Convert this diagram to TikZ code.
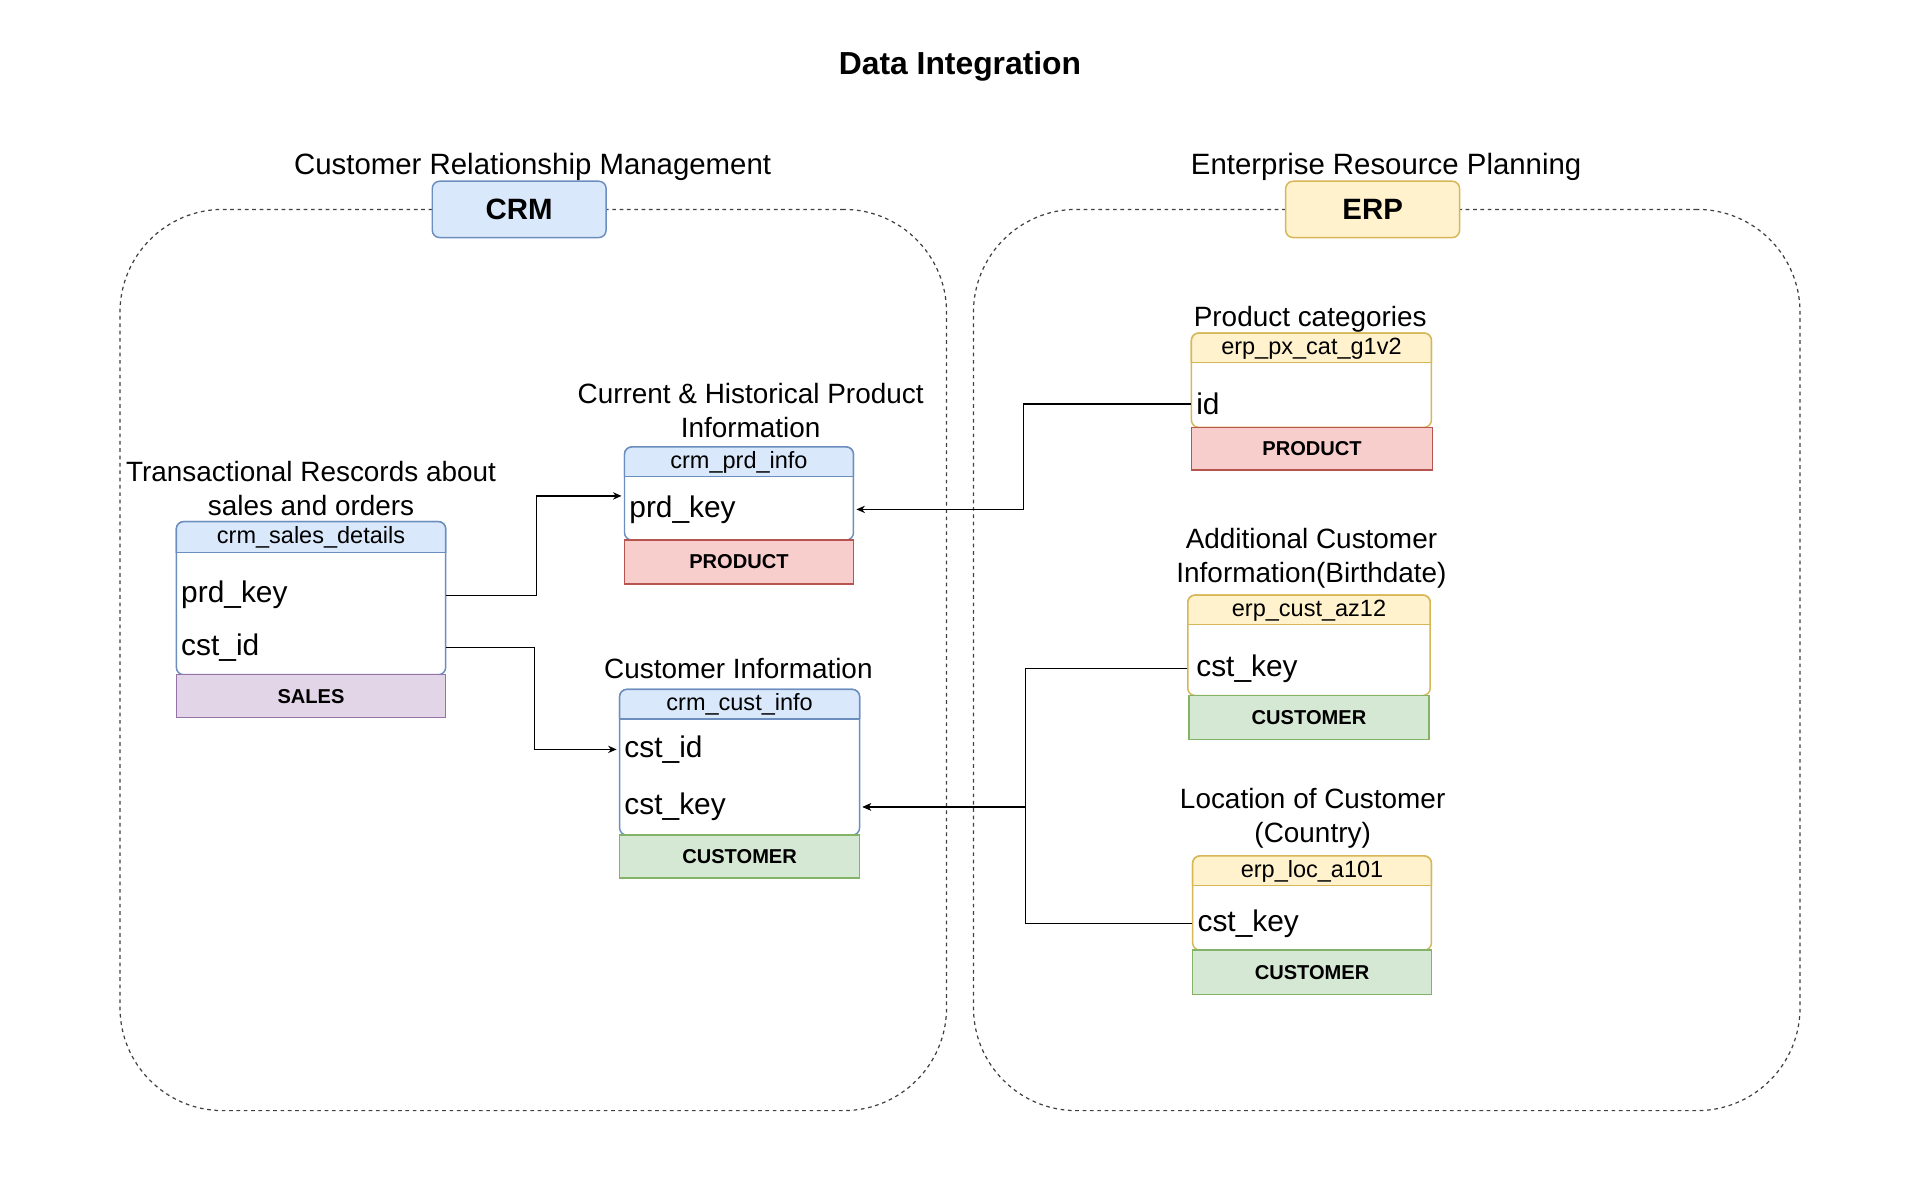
\documentclass[tikz,border=0pt]{standalone}
\usepackage{fontspec}
\setmainfont{Liberation Sans}
\usetikzlibrary{arrows.meta,calc}
\definecolor{bfill}{HTML}{DAE8FC}\definecolor{bline}{HTML}{6C8EBF}
\definecolor{yfill}{HTML}{FFF2CC}\definecolor{yline}{HTML}{D6B656}
\definecolor{rfill}{HTML}{F8CECC}\definecolor{rline}{HTML}{B85450}
\definecolor{pfill}{HTML}{E1D5E7}\definecolor{pline}{HTML}{9673A6}
\definecolor{gfill}{HTML}{D5E8D4}\definecolor{gline}{HTML}{82B366}
\newcommand{\dbtab}[8]{%
  \draw[tabline, draw=#8, fill=white, rounded corners=3pt] (#2,#4) rectangle (#3,#6);
  \begin{scope}
    \clip (#2-4,#4-4) rectangle (#3+4,#5);
    \draw[tabline, draw=#8, fill=#7, rounded corners=3pt] (#2,#4) rectangle (#3,#6);
  \end{scope}
  \draw[tabline, draw=#8] (#2,#5) -- (#3,#5);
}
\begin{document}
\begin{tikzpicture}[x=0.5pt,y=-0.5pt,
  container/.style={draw=black!75, line width=0.5pt, dash pattern=on 1.5pt off 1.5pt, rounded corners=42pt, rectangle, inner sep=0pt},
  tabline/.style={line width=0.6pt},
  sysbox/.style={rectangle, rounded corners=3pt, line width=0.6pt, inner sep=0pt, font=\bfseries\fontsize{12}{14}\selectfont},
  hdrtxt/.style={inner sep=0pt, font=\fontsize{9.6}{11}\selectfont},
  rowtxt/.style={rectangle, inner xsep=2pt, inner ysep=0pt, align=left, font=\fontsize{12.2}{14}\selectfont},
  foot/.style={rectangle, line width=0.6pt, inner sep=0pt, font=\bfseries\fontsize{8.2}{10}\selectfont},
  lbl/.style={inner sep=0pt, align=center, font=\fontsize{11.4}{14}\selectfont},
  biglbl/.style={inner sep=0pt, align=center, font=\fontsize{12}{14}\selectfont},
  conn/.style={draw=black, line width=0.5pt, -{Stealth[length=3.5pt,width=3pt]}}
]
\useasboundingbox (0,0) rectangle (1568,980);

% title
\node[inner sep=0pt, font=\bfseries\fontsize{13}{15}\selectfont] (title) at (784,54) {Data Integration};

% containers
\node[container, minimum width=337.5pt, minimum height=368pt] (crmbox) at (435.5,539) {};
\node[container, minimum width=337.5pt, minimum height=368pt] (erpbox) at (1132.5,539) {};

\node[sysbox, fill=bfill, draw=bline, minimum width=71pt, minimum height=23pt] (crm) at (424,171) {CRM};
\node[sysbox, fill=yfill, draw=yline, minimum width=71pt, minimum height=23pt] (erp) at (1121,171) {ERP};
\node[biglbl] (crml) at (435,136) {Customer Relationship Management};
\node[biglbl] (erpl) at (1132,136) {Enterprise Resource Planning};

% ---- crm_sales_details
\dbtab{sd}{144}{364}{426}{451}{551}{bfill}{bline}
\node[hdrtxt] (sdh) at (254,439) {crm\_sales\_details};
\node[rowtxt, text width=106pt] (sdprd) at (254,486) {prd\_key};
\node[rowtxt, text width=106pt] (sdcst) at (254,529) {cst\_id};
\node[foot, fill=pfill, draw=pline, minimum width=110pt, minimum height=17.5pt] (sdf) at (254,568.5) {SALES};
\node[lbl] (sdl) at (254,399) {Transactional Rescords about\\sales and orders};

% ---- crm_prd_info
\dbtab{pi}{510}{697}{365}{389}{441}{bfill}{bline}
\node[hdrtxt] (pih) at (603.5,377.5) {crm\_prd\_info};
\node[rowtxt, text width=89.5pt] (piprd) at (603.5,416) {prd\_key};
\node[foot, fill=rfill, draw=rline, minimum width=93.5pt, minimum height=18pt] (pif) at (603.5,459) {PRODUCT};
\node[lbl] (pil) at (613,335.5) {Current \& Historical Product\\Information};

% ---- crm_cust_info
\dbtab{ci}{506}{702}{563}{587}{682}{bfill}{bline}
\node[hdrtxt] (cih) at (604,575.5) {crm\_cust\_info};
\node[rowtxt, text width=94pt] (cicst) at (604,612) {cst\_id};
\node[rowtxt, text width=94pt] (cikey) at (604,659) {cst\_key};
\node[foot, fill=gfill, draw=gline, minimum width=98pt, minimum height=17.5pt] (cif) at (604,699.5) {CUSTOMER};
\node[lbl] (cil) at (603,546) {Customer Information};

% ---- erp_px_cat_g1v2
\dbtab{px}{973}{1169}{272}{296}{349}{yfill}{yline}
\node[hdrtxt] (pxh) at (1071,284.5) {erp\_px\_cat\_g1v2};
\node[rowtxt, text width=94pt] (pxid) at (1071,330) {id};
\node[foot, fill=rfill, draw=rline, minimum width=98.5pt, minimum height=17.5pt] (pxf) at (1071.5,366.5) {PRODUCT};
\node[lbl] (pxl) at (1070,261) {Product categories};

% ---- erp_cust_az12
\dbtab{az}{970}{1168}{486}{510}{568}{yfill}{yline}
\node[hdrtxt] (azh) at (1069,498.5) {erp\_cust\_az12};
\node[rowtxt, inner xsep=3.5pt, text width=92pt] (azkey) at (1069,546) {cst\_key};
\node[foot, fill=gfill, draw=gline, minimum width=98pt, minimum height=18pt] (azf) at (1069,586) {CUSTOMER};
\node[lbl] (azl) at (1071,456) {Additional Customer\\Information(Birthdate)};

% ---- erp_loc_a101
\dbtab{lo}{974}{1169}{699}{723}{776}{yfill}{yline}
\node[hdrtxt] (loh) at (1071.5,711.5) {erp\_loc\_a101};
\node[rowtxt, text width=93.5pt] (lokey) at (1071.5,754) {cst\_key};
\node[foot, fill=gfill, draw=gline, minimum width=97.5pt, minimum height=18pt] (lof) at (1071.5,794) {CUSTOMER};
\node[lbl] (lol) at (1072,668) {Location of Customer\\(Country)};

% ---- connectors
\draw[conn] (sdprd.east) -- ++(74,0) |- ([yshift=5.5pt,xshift=-1pt]piprd.west);
\draw[conn] (sdcst.east) -- ++(72,0) |- ([xshift=-1pt]cicst.west);
\draw[conn] (pxid.west) -- ++(-137,0) |- ([xshift=1pt]piprd.east);
\draw[conn] (azkey.west) -- ++(-132,0) |- ([xshift=1pt]cikey.east);
\draw[conn] (lokey.west) -- ++(-136,0) |- ([xshift=1pt]cikey.east);
\end{tikzpicture}
\end{document}
